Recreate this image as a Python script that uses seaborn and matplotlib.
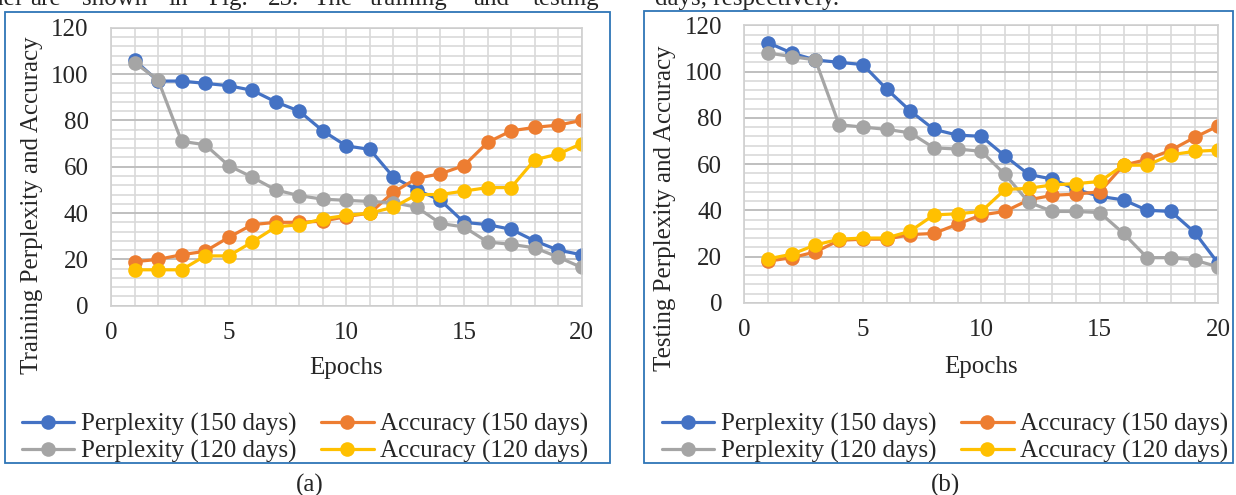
import numpy as np
import pandas as pd
import seaborn as sns
import matplotlib.pyplot as plt
from matplotlib.patches import Rectangle
from matplotlib.ticker import MultipleLocator

# ---- data ----
epochs = list(range(1, 21))

# (a) training
train_perp_150 = [106, 97, 97, 96, 95, 93, 88, 84, 75.5, 69, 67.5, 55.5, 50, 45.5, 36, 35, 33, 28, 24, 22]
train_acc_150 = [19, 20, 22, 23.5, 29.5, 35, 36, 36, 36.5, 38.5, 40, 49, 55, 57, 60.5, 70.5, 75.5, 77, 78, 80]
train_perp_120 = [105, 97.5, 71, 69.5, 60.5, 55.5, 50, 47.5, 46, 45.5, 45, 44.5, 42.5, 35.5, 34, 27.5, 26.5, 25, 21, 16.5]
train_acc_120 = [15.5, 15.5, 15.5, 21.5, 21.5, 27.5, 34, 35, 37.5, 39, 40, 42.5, 48, 48, 49.5, 51, 51, 63, 65.5, 70]

# (b) testing
test_perp_150 = [112.5, 108, 105, 104, 103, 92.5, 83, 75, 72.5, 72, 63.5, 55.5, 53.5, 49, 46, 44.5, 40, 39.5, 30.5, 17]
test_acc_150 = [18, 19.5, 22, 27, 27.5, 27.5, 29.5, 30, 34, 38, 39.5, 44.5, 46.5, 47, 48, 59.5, 62, 66, 71.5, 76.5]
test_perp_120 = [108, 106.5, 105, 77, 76, 75, 73.5, 67, 66.5, 65.5, 55.5, 43.5, 39.5, 39.5, 39, 30, 19.5, 19.5, 18.5, 15.5]
test_acc_120 = [19, 21, 25, 27.5, 28, 28, 31, 38, 38.5, 39.5, 49, 49.5, 51, 51.5, 52.5, 59.5, 59.5, 64, 65.5, 66]

series_names = ["Perplexity (150 days)", "Accuracy (150 days)",
                "Perplexity (120 days)", "Accuracy (120 days)"]
colors = ["#4472C4", "#ED7D31", "#A5A5A5", "#FFC000"]


def to_long(cols):
    frames = []
    for name, vals in zip(series_names, cols):
        frames.append(pd.DataFrame({"Epoch": epochs, "Value": vals, "Series": name}))
    return pd.concat(frames, ignore_index=True)


df_train = to_long([train_perp_150, train_acc_150, train_perp_120, train_acc_120])
df_test = to_long([test_perp_150, test_acc_150, test_perp_120, test_acc_120])

sns.set_style("white")
plt.rcParams['font.family'] = ['Liberation Serif', 'DejaVu Serif']

W, H = 1236, 495
fig = plt.figure(figsize=(W / 100, H / 100), dpi=100)


def px_box(x0, y0, x1, y1):
    # pixel box (top-left origin) -> figure fraction rect
    return [x0 / W, 1 - y1 / H, (x1 - x0) / W, (y1 - y0) / H]


def draw_panel(df, rect, ylabel, ylab_x, ylab_y, xlab_y):
    ax = fig.add_axes(rect)
    sns.lineplot(data=df, x="Epoch", y="Value", hue="Series", hue_order=series_names,
                 palette=colors, marker="o", markersize=10.5, markeredgewidth=0,
                 linewidth=2.3, ax=ax, legend=False)
    ax.set_xlim(0, 20)
    ax.set_ylim(0, 120)
    ax.xaxis.set_major_locator(MultipleLocator(5))
    ax.xaxis.set_minor_locator(MultipleLocator(1))
    ax.yaxis.set_major_locator(MultipleLocator(20))
    ax.yaxis.set_minor_locator(MultipleLocator(4))
    ax.grid(which="minor", color="#d9d9d9", linewidth=1.2, zorder=0)
    ax.grid(which="major", axis="x", color="#d9d9d9", linewidth=1.2, zorder=0)
    ax.grid(which="major", axis="y", color="#bfbfbf", linewidth=1.4, zorder=0)
    ax.set_axisbelow(True)
    for sp in ax.spines.values():
        sp.set_color("#d0d0d0")
        sp.set_linewidth(1.2)
    ax.tick_params(axis="both", which="both", length=0, labelsize=18)
    ax.tick_params(axis="y", pad=16)
    ax.tick_params(axis="x", pad=12)
    ax.set_xlabel("Epochs", fontsize=18)
    ax.set_ylabel(ylabel, fontsize=18)
    ax.xaxis.set_label_coords(0.5, xlab_y)
    ax.yaxis.set_label_coords(ylab_x, ylab_y)
    return ax


ax_a = draw_panel(df_train, px_box(111, 27.8, 581.7, 305.7),
                  "Training Perplexity and Accuracy", -0.144, 0.36, -0.185)
ax_b = draw_panel(df_test, px_box(744.3, 25.3, 1218.3, 302.8),
                  "Testing Perplexity and Accuracy", -0.144, 0.342, -0.19)

# legends (two rows, Excel order)
for ax, cx in [(ax_a, 305), (ax_b, 945)]:
    lines = ax.get_lines()[:4]
    order = [0, 2, 1, 3]
    fig.legend([lines[i] for i in order], [series_names[i] for i in order],
               loc="center", bbox_to_anchor=(cx / W, 1 - 438 / H), ncol=2,
               frameon=False, fontsize=18, handlelength=2.1, handletextpad=0.25,
               columnspacing=1.0, labelspacing=0.15, borderpad=0)

# blue chart borders
for x0, y0, x1, y1 in [(5, 12, 610, 463), (644, 11, 1233, 463)]:
    fig.patches.append(Rectangle((x0 / W, 1 - y1 / H), (x1 - x0) / W, (y1 - y0) / H,
                                 transform=fig.transFigure, fill=False,
                                 edgecolor="#2E75B6", linewidth=1.3))

# captions
fig.text(310 / W, 1 - 485 / H, "(a)", ha="center", va="center", fontsize=18)
fig.text(945 / W, 1 - 485 / H, "(b)", ha="center", va="center", fontsize=18)

# surrounding page text, cut off at the top as in the page crop
words = [("model", 22, "right"), ("are", 30, "left"), ("shown", 82, "left"),
         ("in", 168, "left"), ("Fig.", 208, "left"), ("25.", 268, "left"),
         ("The", 313, "left"), ("training", 370, "left"), ("and", 473, "left"),
         ("testing", 533, "left"), ("days, respectively.", 655, "left")]
for w, x, ha in words:
    fig.text(x / W, 1 - 5 / H, w, ha=ha, va="baseline", fontsize=18)

fig.savefig("out.png", dpi=100)
